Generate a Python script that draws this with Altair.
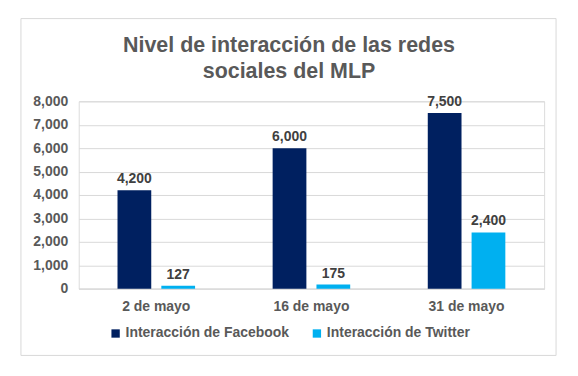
import altair as alt
import pandas as pd

fechas = ["2 de mayo", "16 de mayo", "31 de mayo"]
series = ["Interacción de Facebook", "Interacción de Twitter"]
facebook = [4200, 6000, 7500]
twitter = [127, 175, 2400]
colores = ["#002060", "#00B0F0"]
titulo = "Nivel de interacción de las redes\nsociales del MLP"

rows = []
for i, f in enumerate(fechas):
    rows.append({"fecha": f, "serie": series[0], "valor": facebook[i]})
    rows.append({"fecha": f, "serie": series[1], "valor": twitter[i]})
df = pd.DataFrame(rows)

FONT = "Liberation Sans"
GRAY = "#595959"

x = alt.X("fecha:N", sort=fechas, title=None,
          scale=alt.Scale(paddingInner=0.5, paddingOuter=0.25),
          axis=alt.Axis(labelAngle=0, labelFont=FONT, labelFontSize=14, labelFontWeight="bold",
                        labelColor=GRAY, ticks=False, domainColor="#d9d9d9", labelPadding=11))
xo = alt.XOffset("serie:N", sort=series, scale=alt.Scale(paddingInner=0.23, paddingOuter=0))
y = alt.Y("valor:Q", title=None,
          scale=alt.Scale(domain=[0, 8000], nice=False),
          axis=alt.Axis(values=[0, 1000, 2000, 3000, 4000, 5000, 6000, 7000, 8000], format=",.0f",
                        labelFont=FONT, labelFontSize=14, labelFontWeight="bold", labelColor=GRAY,
                        domain=False, ticks=False, gridColor="#d9d9d9", labelPadding=11))

bars = alt.Chart(df).mark_bar().encode(
    x=x, xOffset=xo, y=y,
    color=alt.Color("serie:N", sort=series, scale=alt.Scale(domain=series, range=colores),
                    legend=alt.Legend(title=None, orient="none", direction="horizontal",
                                      legendX=30, legendY=226, symbolType="square", symbolSize=70,
                                      symbolStrokeWidth=0, labelFont=FONT, labelFontSize=14,
                                      labelFontWeight="bold", labelColor=GRAY, columnPadding=20,
                                      labelOffset=3, padding=0, labelLimit=400)),
)

labels = alt.Chart(df).mark_text(dy=-11, font=FONT, fontSize=14, fontWeight="bold", color="#404040").encode(
    x=x, xOffset=xo, y=y, text=alt.Text("valor:Q", format=",.0f"),
)

deco = pd.DataFrame({"t": [titulo]})

frame = alt.Chart(deco).mark_rect(
    fill=None, stroke="#d9d9d9", strokeWidth=1, clip=False
).encode(x=alt.value(-58), x2=alt.value(479), y=alt.value(-83), y2=alt.value(255))

title = alt.Chart(deco).mark_text(
    font=FONT, fontSize=21.5, fontWeight="bold", color=GRAY, align="center",
    baseline="alphabetic", lineBreak="\n", lineHeight=26
).encode(x=alt.value(211), y=alt.value(-49), text="t:N")

chart = alt.layer(frame, title, bars, labels).properties(
    width=467, height=188,
    padding={"left": 20, "top": 17, "right": 21, "bottom": 21},
).configure_view(stroke=None).configure(background="white")

chart.save("out.html", embed_options={"renderer": "svg", "actions": False})
